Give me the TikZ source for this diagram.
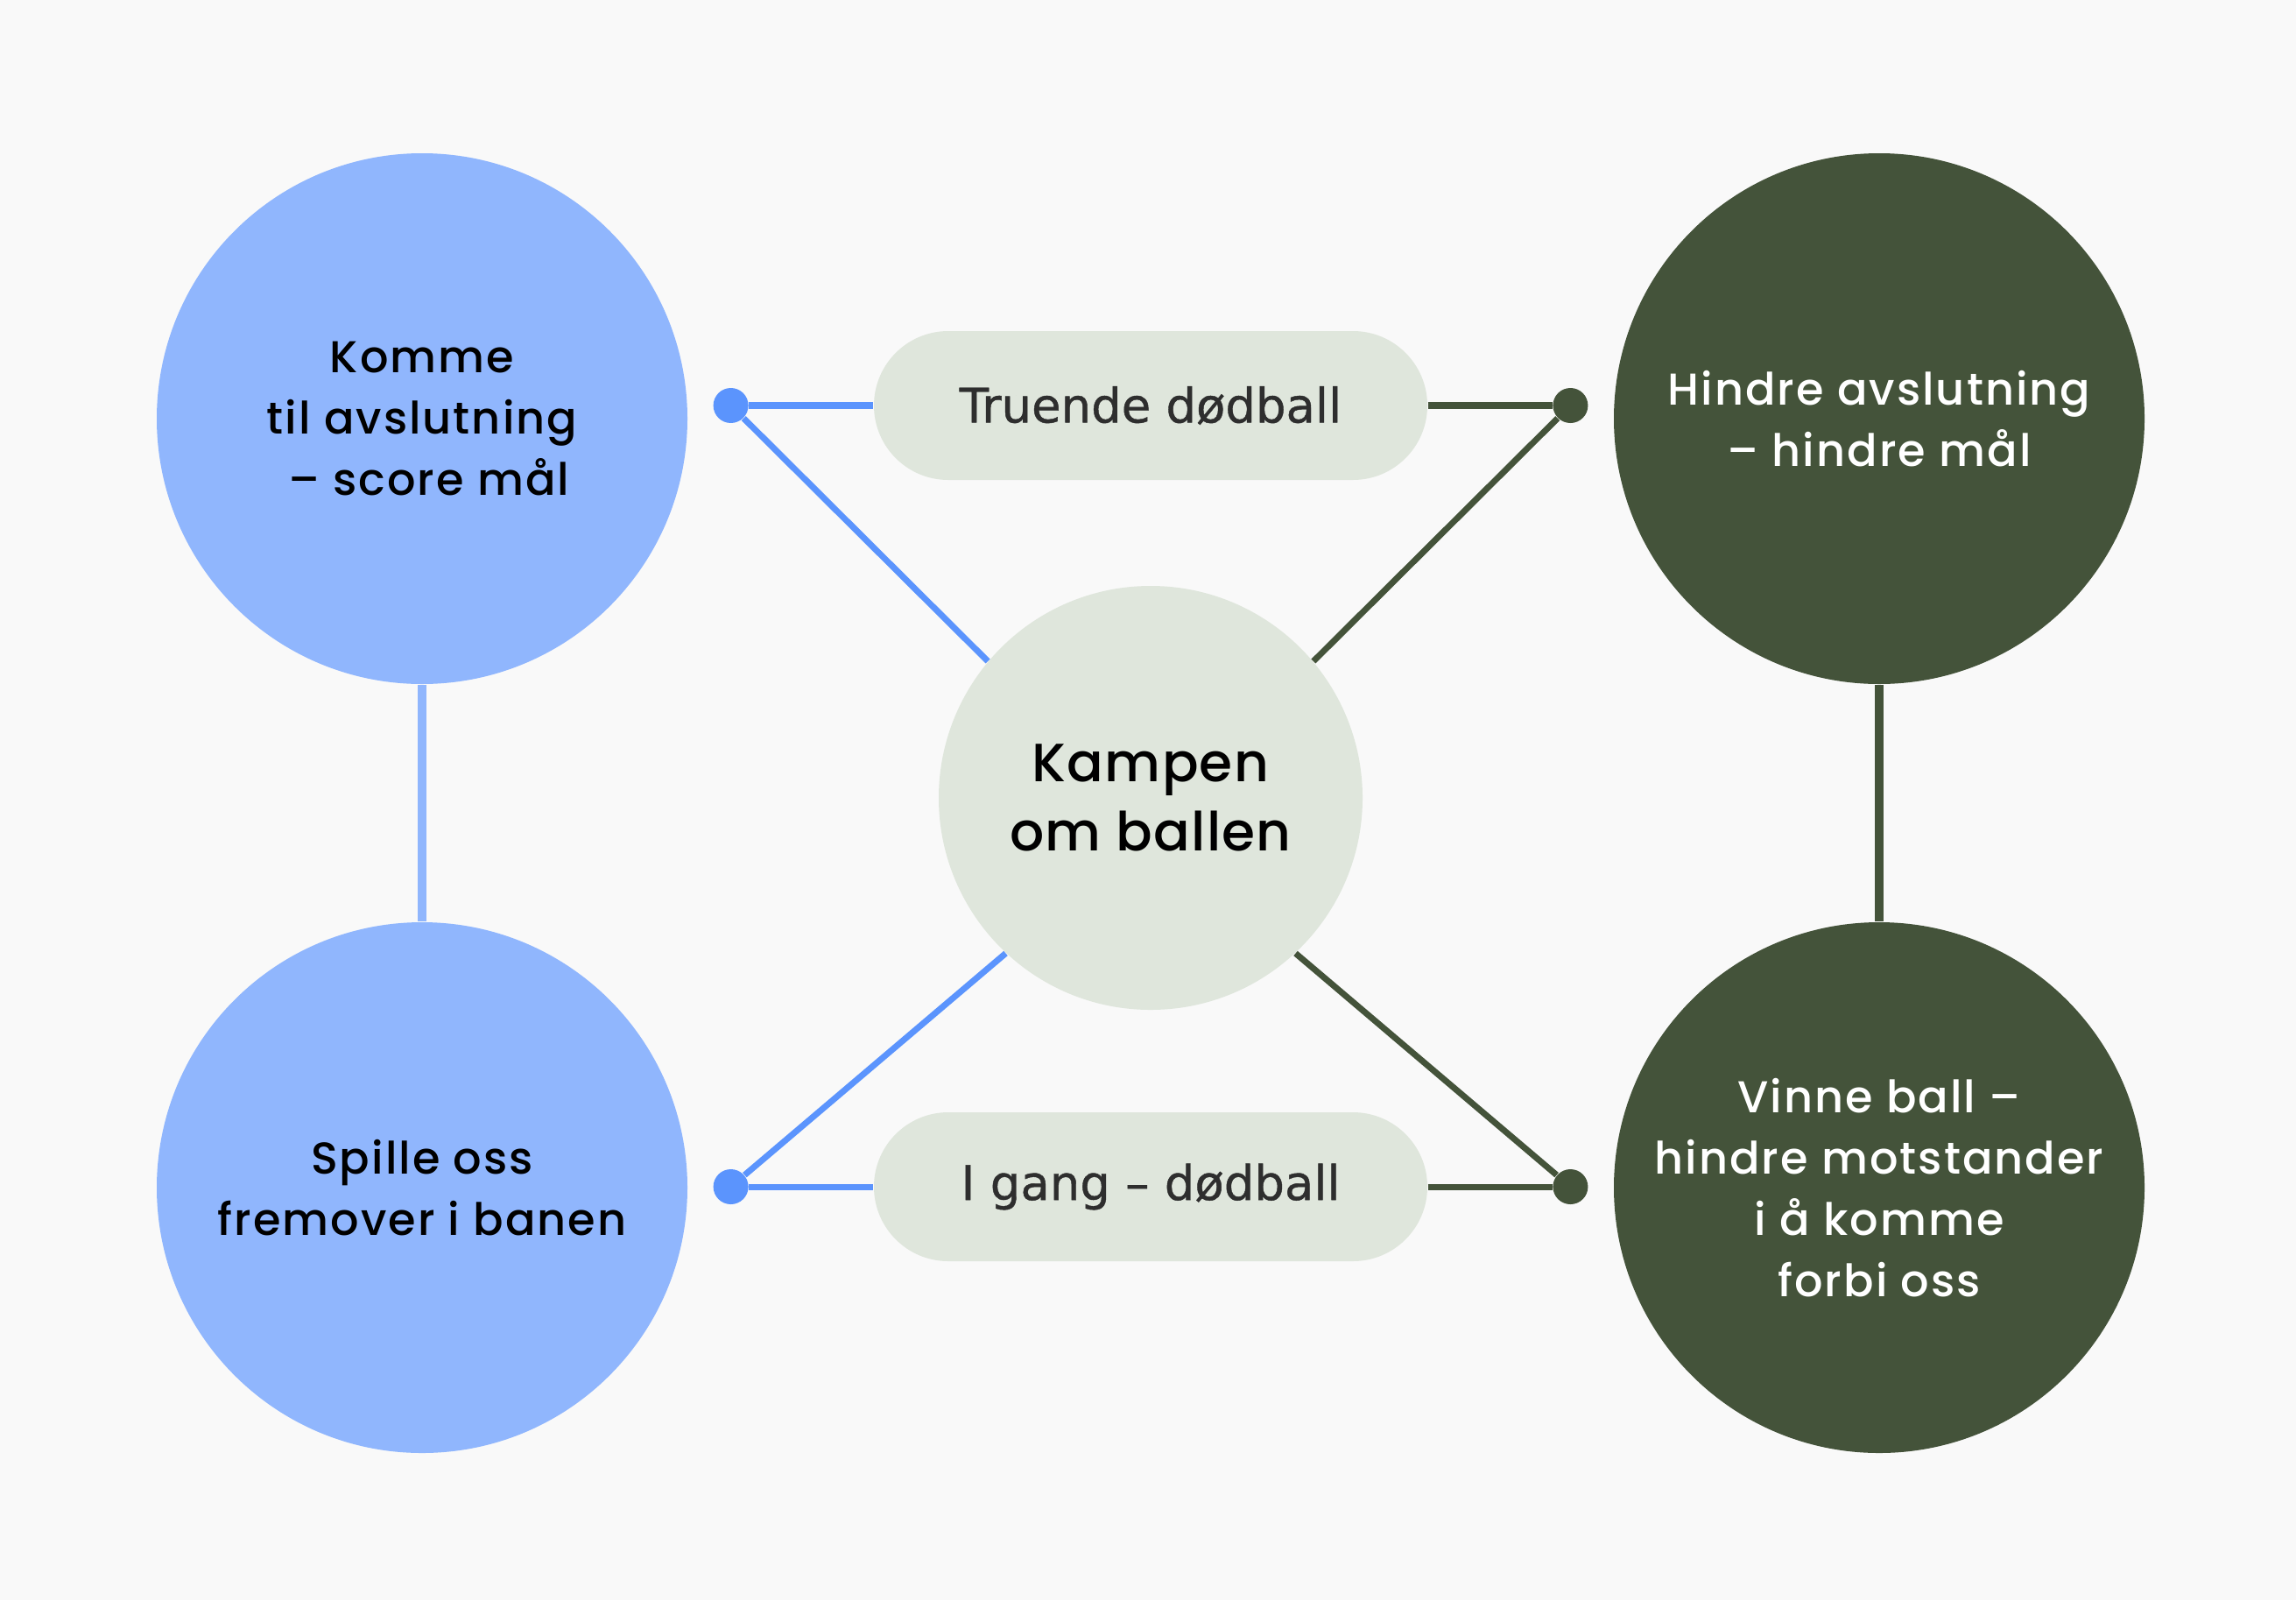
\documentclass[tikz,border=0pt]{standalone}
\usepackage{fontspec}
\setmainfont{Poppins Medium}[LetterSpace=4]
\newfontfamily\hubfont{Poppins Medium}[LetterSpace=2]
\newfontfamily\pillfont{DejaVu Sans}[FakeBold=0.8]
\usepackage{xcolor}
\usetikzlibrary{positioning}

\definecolor{bgGrey}{HTML}{F9F9F9}
\definecolor{skyBlue}{HTML}{90B6FD}
\definecolor{lineBlue}{HTML}{5B94FD}
\definecolor{darkGreen}{HTML}{44533A}
\definecolor{paleSage}{HTML}{DFE6DC}
\definecolor{textGrey}{HTML}{2E2E2E}

\begin{document}
\begin{tikzpicture}[
    attack/.style = {circle, fill=skyBlue, minimum size=6.06cm, align=center, text=black, font=\fontsize{14.5}{19.9}\selectfont},
    defend/.style = {circle, fill=darkGreen, minimum size=6.06cm, align=center, text=white, font=\fontsize{14.5}{19.9}\selectfont},
    hub/.style = {circle, fill=paleSage, minimum size=4.84cm, align=center, text=black, font=\hubfont\fontsize{17.5}{22.4}\selectfont},
    pill/.style = {rectangle, fill=paleSage, rounded corners=0.85cm, minimum width=6.32cm, minimum height=1.70cm, text=textGrey, font=\pillfont\fontsize{15.5}{18}\selectfont},
    bluedot/.style = {circle, fill=lineBlue, inner sep=0pt, minimum size=0.4cm},
    greendot/.style = {circle, fill=darkGreen, inner sep=0pt, minimum size=0.4cm},
    bluelink/.style = {lineBlue, line width=2pt},
    greenlink/.style = {darkGreen, line width=2pt}
]
    \fill[bgGrey] (0,0) rectangle (26.22,-18.27);
    \useasboundingbox (0,0) rectangle (26.22,-18.27);

    % Nodes
    \node (mid) [hub] at (13.14,-9.11) {Kampen\\om ballen};
    \node (score) [attack] at (4.82,-4.78) {Komme\\til avslutning\\~– score mål};
    \node (forward) [attack] at (4.82,-13.56) {Spille oss\\fremover i banen};
    \node (block) [defend] at (21.46,-4.78) {Hindre avslutning\\– hindre mål};
    \node (win) [defend] at (21.46,-13.56) {Vinne ball –\\hindre motstander\\i å komme\\forbi oss};
    \node (threat) [pill] at (13.14,-4.63) {Truende dødball};
    \node (restart) [pill] at (13.14,-13.55) {I gang – dødball};
    \node (dotTL) [bluedot, left=1.42cm of threat] {};
    \node (dotTR) [greendot, right=1.42cm of threat] {};
    \node (dotBL) [bluedot, left=1.42cm of restart] {};
    \node (dotBR) [greendot, right=1.42cm of restart] {};

    % Links
    \draw [skyBlue, line width=2.6pt] (score) -- (forward);
    \draw [darkGreen, line width=2.6pt] (block) -- (win);
    \draw [bluelink] (dotTL) -- (threat);
    \draw [bluelink] (dotBL) -- (restart);
    \draw [greenlink] (threat) -- (dotTR);
    \draw [greenlink] (restart) -- (dotBR);
    \draw [bluelink] (dotTL) -- (mid.140);
    \draw [bluelink] (dotBL) -- (mid.227);
    \draw [greenlink] (dotTR) -- (mid.40);
    \draw [greenlink] (dotBR) -- (mid.313);

\end{tikzpicture}
\end{document}
